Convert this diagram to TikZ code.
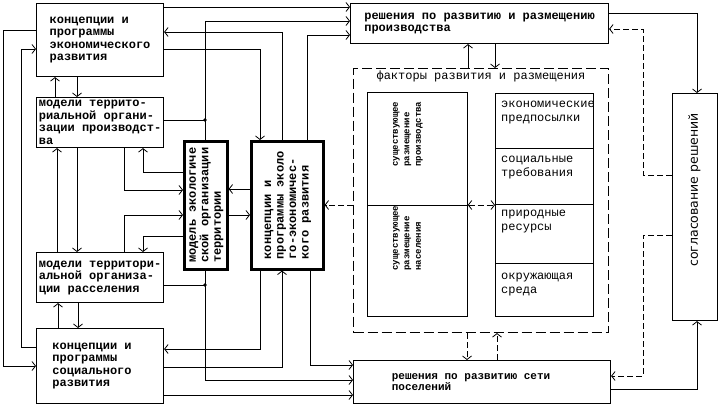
\documentclass[tikz,border=0pt]{standalone}
\usepackage{fontspec}
\setmonofont{Liberation Mono}
\setsansfont{DejaVu Sans}
\usetikzlibrary{arrows.meta}
\newcommand\rottext[1]{\rotatebox{90}{\begin{tabular}{@{}l@{}}#1\end{tabular}}}

\begin{document}
\begin{tikzpicture}[x=1pt,y=-1pt,
    >={Straight Barb[length=3.5pt,width=9pt]},
    box/.style={draw,line width=1.1pt,inner sep=0pt,anchor=north west,align=left,
      font=\ttfamily\bfseries\fontsize{12}{12.5}\selectfont},
    thickbox/.style={box,line width=2.6pt},
    cell/.style={draw,line width=0.8pt,inner sep=0pt,anchor=north west},
    celltxt/.style={inner sep=0pt,anchor=north west,align=left,
      font=\ttfamily\fontsize{12}{13.5}\selectfont},
    smalltxt/.style={inner sep=0pt,font=\ttfamily\bfseries\fontsize{9}{11.5}\selectfont},
    conn/.style={->,line width=0.8pt},
    dconn/.style={conn,dash pattern=on 6pt off 3pt}]
    \useasboundingbox (0,0) rectangle (720,409);

    % left column
    \node[box,minimum width=127pt,minimum height=73pt] (ekon) at (36,3) {концепции и\\программы\\экономического\\развития};
    \node[box,minimum width=127pt,minimum height=50pt] (mproizv) at (36,97) {модели террито-\\риальной органи-\\зации производст-\\ва};
    \node[box,minimum width=127pt,minimum height=50pt] (mrass) at (36,252) {модели территори-\\альной организа-\\ции расселения};
    \node[box,minimum width=127pt,minimum height=75pt] (soc) at (36,328) {концепции и\\программы\\социального\hspace*{16pt}\null\\развития};

    % middle
    \node[thickbox,minimum width=43pt,minimum height=128pt] (ekol) at (183,140) {\rottext{модель экологиче\\ской организации\\территории}};
    \node[thickbox,minimum width=72pt,minimum height=128pt] (ekoek) at (250,140) {\rottext{концепции и\\программы эколо\\го-экономичес-\\кого развития}};

    % right part
    \node[box,minimum width=258pt,minimum height=40pt] (rproizv) at (350,3) {решения по развитию и размещению\\производства};
    \node[box,minimum width=257pt,minimum height=43pt,font=\ttfamily\bfseries\fontsize{11}{11.5}\selectfont] (posel) at (353,360) {решения по развитию сети\hspace*{22pt}\null\\поселений};

    \node[box,minimum width=255pt,minimum height=264pt,dash pattern=on 10pt off 4pt] (fakt) at (353,68) {};
    \node[celltxt,anchor=center] (faktt) at (481,76) {факторы развития и размещения};

    \node[cell,minimum width=100pt,minimum height=113pt] (proizv) at (367,92) {};
    \node[cell,minimum width=100pt,minimum height=111pt] (nasel) at (367,205) {};
    \node[smalltxt] (proizvt) at (407,134) {\rottext{существующее\\размещение\\производства}};
    \node[smalltxt] (naselt) at (407,238) {\rottext{существующее\\размещение\\населения}};

    \node[cell,minimum width=98pt,minimum height=55pt] (r1) at (495,93) {};
    \node[cell,minimum width=98pt,minimum height=56pt] (r2) at (495,148) {};
    \node[cell,minimum width=98pt,minimum height=59pt] (r3) at (495,204) {};
    \node[cell,minimum width=98pt,minimum height=53pt] (r4) at (495,263) {};
    \node[celltxt] (r1t) at (501,101) {экономические\\предпосылки};
    \node[celltxt] (r2t) at (501,156) {социальные\\требования};
    \node[celltxt] (r3t) at (501,210) {природные\\ресурсы};
    \node[celltxt] (r4t) at (501,273) {окружающая\\среда};

    \node[box,minimum width=45pt,minimum height=227pt] (sogl) at (672,93) {};
    \node[inner sep=0pt,font=\sffamily\fontsize{12.5}{13}\selectfont] (soglt) at (695,190) {\rottext{согласование решений}};

    % left loops
    \draw[conn] (ekon.west |- 0,30) -- (3,30) |- (soc.west |- 0,366);
    \draw[conn] (soc.west |- 0,347) -- (21,347) |- (ekon.west |- 0,49);
    \draw[conn] (mproizv.north -| 55,0) -- (ekon.south -| 55,0);
    \draw[conn] (ekon.south -| 77,0) -- (mproizv.north -| 77,0);
    \draw[conn] (mrass.north -| 57,0) -- (mproizv.south -| 57,0);
    \draw[conn] (mproizv.south -| 77,0) -- (mrass.north -| 77,0);
    \draw[conn] (soc.north -| 58,0) -- (mrass.south -| 58,0);
    \draw[conn] (mrass.south -| 78,0) -- (soc.north -| 78,0);

    % models <-> ecological model
    \draw[conn] (mproizv.south -| 124,0) |- (ekol.west |- 0,190);
    \draw[conn] (ekol.west |- 0,172) -| (mproizv.south -| 143,0);
    \draw[conn] (mrass.north -| 124,0) |- (ekol.west |- 0,215);
    \draw[conn] (ekol.west |- 0,236) -| (mrass.north -| 143,0);
    \draw[conn] (ekoek.west |- 0,189) -- (ekol.east |- 0,189);
    \draw[conn] (ekol.east |- 0,215) -- (ekoek.west |- 0,215);

    % junctions
    \coordinate (jt) at (205,120);
    \coordinate (jb) at (205,285);
    \fill (jt) circle (1.8pt);
    \fill (jb) circle (1.8pt);
    \draw[conn] (mproizv.east |- jt) -- (jt) |- (rproizv.west |- 0,21);
    \draw[line width=0.8pt] (ekol.north -| jt) -- (jt);
    \draw[conn] (mrass.east |- jb) -- (jb) |- (posel.west |- 0,380);
    \draw[line width=0.8pt] (ekol.south -| jb) -- (jb);

    % top and bottom links
    \draw[conn] (ekon.east |- 0,7) -- (rproizv.west |- 0,7);
    \draw[conn] (ekon.east |- 0,49) -| (ekoek.north -| 260,0);
    \draw[conn] (ekoek.north -| 282,0) |- (ekon.east |- 0,32);
    \draw[conn] (ekoek.north -| 307,0) |- (rproizv.west |- 0,35);
    \draw[conn] (ekoek.south -| 260,0) |- (soc.east |- 0,349);
    \draw[conn] (soc.east |- 0,367) -| (ekoek.south -| 282,0);
    \draw[conn] (ekoek.south -| 310,0) |- (posel.west |- 0,365);
    \draw[conn] (soc.east |- 0,395) -- (posel.west |- 0,395);

    % factors
    \draw[dconn] (fakt.west |- 0,205) -- (ekoek.east |- 0,205);
    \draw[conn] (rproizv.south -| 495,0) -- (fakt.north -| 495,0);
    \draw[conn] (fakt.north -| 468,0) -- (rproizv.south -| 468,0);
    \draw[dconn] (fakt.south -| 467,0) -- (posel.north -| 467,0);
    \draw[dconn] (posel.north -| 497,0) -- (fakt.south -| 497,0);
    \draw[dconn,<->] (proizv.east |- 0,205) -- (r3.west |- 0,205);

    % coordination
    \draw[conn] (rproizv.east |- 0,13) -| (sogl.north -| 697,0);
    \draw[dconn] (sogl.west |- 0,175) -| (643,29) -- (rproizv.east |- 0,29);
    \draw[dconn] (sogl.west |- 0,235) -| (643,376) -- (posel.east |- 0,376);
    \draw[conn] (posel.east |- 0,389) -| (sogl.south -| 697,0);
\end{tikzpicture}
\end{document}
